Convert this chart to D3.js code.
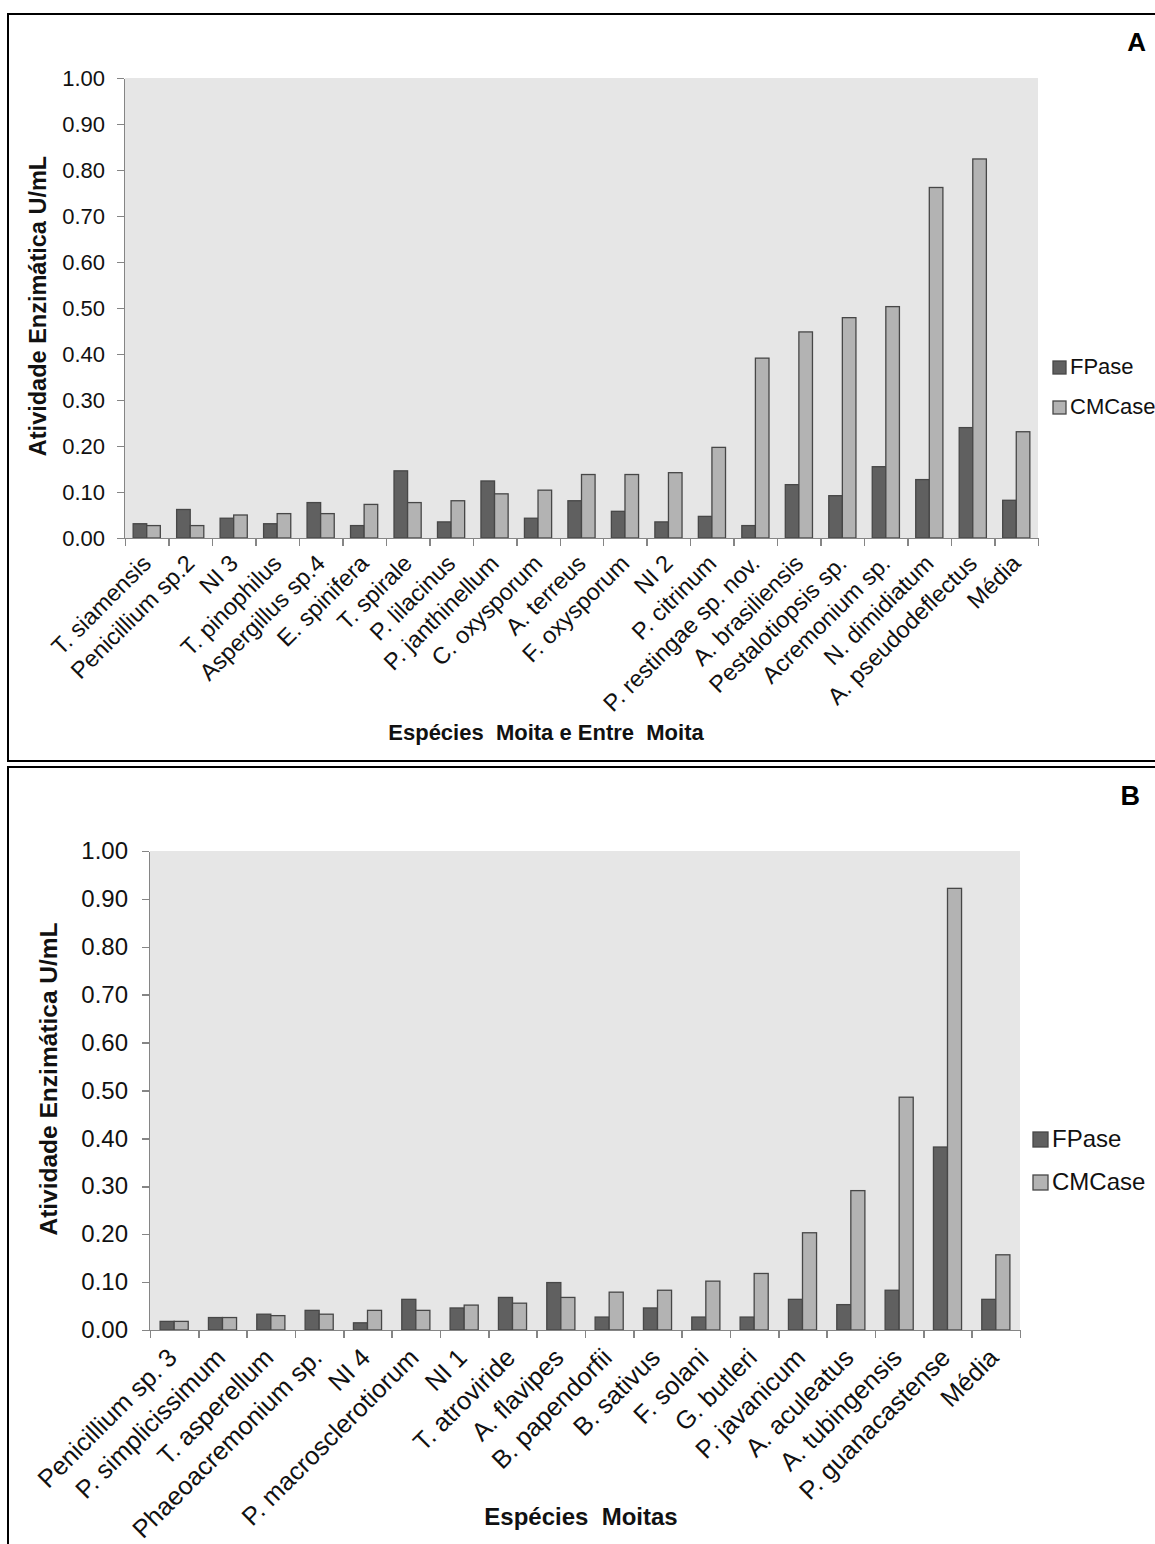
<!DOCTYPE html>
<html>
<head>
<script src="https://d3js.org/d3.v7.min.js"></script>
<style>
  body { margin: 0; background: #fff; }
  svg { display: block; font-family: "Liberation Sans", Arial, sans-serif; }
  .axis path, .axis line { stroke: #858585; stroke-width: 1.5; shape-rendering: crispEdges; }
  .axis text { fill: #111; }
</style>
</head>
<body>
<div id="chart"></div>
<script>
// panel A data
var catsA = ["T. siamensis", "Penicillium sp.2", "NI 3", "T. pinophilus", "Aspergillus sp.4",
  "E. spinifera", "T. spirale", "P. lilacinus", "P. janthinellum", "C. oxysporum", "A. terreus",
  "F. oxysporum", "NI 2", "P. citrinum", "P. restingae sp. nov.", "A. brasiliensis",
  "Pestalotiopsis sp.", "Acremonium sp.", "N. dimidiatum", "A. pseudodeflectus", "Média"];
var fpaseA = [0.031, 0.062, 0.043, 0.031, 0.077, 0.027, 0.146, 0.035, 0.124, 0.043, 0.081,
  0.058, 0.035, 0.047, 0.027, 0.116, 0.092, 0.155, 0.127, 0.240, 0.082];
var cmcaseA = [0.027, 0.027, 0.050, 0.053, 0.053, 0.073, 0.077, 0.081, 0.096, 0.104, 0.138,
  0.138, 0.142, 0.197, 0.391, 0.448, 0.479, 0.503, 0.762, 0.824, 0.231];

// panel B data
var catsB = ["Penicillium sp. 3", "P. simplicissimum", "T. asperellum", "Phaeoacremonium sp.",
  "NI 4", "P. macrosclerotiorum", "NI 1", "T. atroviride", "A. flavipes", "B. papendorfii",
  "B. sativus", "F. solani", "G. butleri", "P. javanicum", "A. aculeatus", "A. tubingensis",
  "P. guanacastense", "Média"];
var fpaseB = [0.018, 0.026, 0.033, 0.041, 0.015, 0.064, 0.046, 0.068, 0.099, 0.027,
  0.046, 0.027, 0.027, 0.064, 0.053, 0.083, 0.382, 0.064];
var cmcaseB = [0.018, 0.026, 0.030, 0.033, 0.041, 0.041, 0.052, 0.056, 0.068, 0.079,
  0.083, 0.102, 0.118, 0.203, 0.291, 0.486, 0.922, 0.157];

var seriesNames = ["FPase", "CMCase"];
var yTicks = [0, 0.1, 0.2, 0.3, 0.4, 0.5, 0.6, 0.7, 0.8, 0.9, 1.0];

var width = 1155, height = 1544;
var fill = { FPase: "#606060", CMCase: "#b3b3b3" };

var svg = d3.select("#chart").append("svg").attr("width", width).attr("height", height);

function drawPanel(p) {
  var g = svg.append("g");

  // frame
  g.append("rect").attr("x", p.box[0]).attr("y", p.box[1])
    .attr("width", p.box[2]).attr("height", p.box[3])
    .attr("fill", "none").attr("stroke", "#000").attr("stroke-width", 2);

  var y = d3.scaleLinear().domain([0, 1]).range([p.bottom, p.top]);
  var x = d3.scaleBand().domain(p.cats).range([p.left, p.right]).padding(0);
  var xs = d3.scaleBand().domain(seriesNames).range([0, x.bandwidth()])
    .paddingInner(0).paddingOuter(p.pad);
  var xi = d3.scaleLinear().domain([0, p.cats.length]).range([p.left, p.right]);

  g.append("rect").attr("x", p.left).attr("y", p.top)
    .attr("width", p.right - p.left).attr("height", p.bottom - p.top)
    .attr("fill", "#e6e6e6");

  var rows = p.cats.map(function (c, i) {
    return { cat: c, FPase: p.fp[i], CMCase: p.cm[i] };
  });

  var grp = g.selectAll(".grp").data(rows).enter().append("g")
    .attr("transform", function (d) { return "translate(" + x(d.cat) + ",0)"; });
  grp.selectAll("rect").data(function (d) {
    return seriesNames.map(function (s) { return { s: s, v: d[s] }; });
  }).enter().append("rect")
    .attr("x", function (d) { return xs(d.s); })
    .attr("y", function (d) { return y(d.v); })
    .attr("width", xs.bandwidth())
    .attr("height", function (d) { return p.bottom - y(d.v); })
    .attr("fill", function (d) { return fill[d.s]; })
    .attr("stroke", "#474747").attr("stroke-width", 1.3);

  // y axis
  var ya = g.append("g").attr("class", "axis").attr("transform", "translate(" + (p.left - 1) + ",0)")
    .call(d3.axisLeft(y).tickValues(yTicks).tickFormat(d3.format(".2f"))
      .tickSize(7).tickSizeOuter(0).tickPadding(p.tickPad));
  ya.selectAll("text").style("font-size", p.fs + "px");

  // x axis, ticks on category boundaries
  g.append("g").attr("class", "axis").attr("transform", "translate(0," + p.bottom + ")")
    .call(d3.axisBottom(xi).tickValues(d3.range(p.cats.length + 1)).tickFormat("")
      .tickSize(8).tickSizeOuter(0));

  g.selectAll(".xlab").data(p.cats).enter().append("text")
    .attr("transform", function (d) {
      return "translate(" + (x(d) + x.bandwidth() / 2 + p.labDx) + "," + (p.bottom + p.labDy) + ") rotate(-45)";
    })
    .attr("text-anchor", "end").attr("dy", "0.35em")
    .style("font-size", p.labFs + "px").attr("fill", "#111")
    .text(function (d) { return d; });

  // axis titles
  g.append("text")
    .attr("transform", "translate(" + p.yTitle[0] + "," + p.yTitle[1] + ") rotate(-90)")
    .attr("text-anchor", "middle").style("font-weight", "bold")
    .style("font-size", p.yTitleFs + "px").attr("fill", "#111")
    .text("Atividade Enzimática U/mL");

  g.append("text").attr("x", p.xTitle[0]).attr("y", p.xTitle[1])
    .attr("text-anchor", "middle").style("font-weight", "bold")
    .style("font-size", p.fs + "px").style("white-space", "pre").attr("fill", "#111")
    .text(p.xTitleText);

  // panel letter
  g.append("text").attr("x", p.letter[0]).attr("y", p.letter[1])
    .attr("text-anchor", "end").style("font-weight", "bold")
    .style("font-size", p.letterFs + "px").attr("fill", "#000")
    .text(p.letterText);

  // legend
  var lg = g.append("g").attr("transform", "translate(" + p.legend[0] + "," + p.legend[1] + ")");
  var li = lg.selectAll("g").data(seriesNames).enter().append("g")
    .attr("transform", function (d, i) { return "translate(0," + (i * p.legend[3]) + ")"; });
  li.append("rect").attr("width", p.legend[2]).attr("height", p.legend[2])
    .attr("fill", function (d) { return fill[d]; })
    .attr("stroke", "#474747").attr("stroke-width", 1.3);
  li.append("text").attr("x", p.legend[2] + 4).attr("y", p.legend[2])
    .style("font-size", p.fs + "px").attr("fill", "#111")
    .text(function (d) { return d; });
}

drawPanel({
  cats: catsA, fp: fpaseA, cm: cmcaseA,
  box: [8, 14, 1160, 747],
  left: 125, right: 1038, top: 78, bottom: 538, pad: 0.6,
  fs: 22, labFs: 23.5, tickPad: 12, labDx: 0, labDy: 21,
  yTitle: [46, 306], yTitleFs: 23.5,
  xTitle: [546, 740], xTitleText: "Espécies  Moita e Entre  Moita",
  letter: [1146, 51], letterFs: 26, letterText: "A",
  legend: [1053, 361, 13, 40]
});

drawPanel({
  cats: catsB, fp: fpaseB, cm: cmcaseB,
  box: [8, 767, 1160, 800],
  left: 150, right: 1020, top: 851, bottom: 1330, pad: 0.72,
  fs: 24, labFs: 25.5, tickPad: 14, labDx: -2, labDy: 23,
  yTitle: [57, 1079], yTitleFs: 24.5,
  xTitle: [581, 1525], xTitleText: "Espécies  Moitas",
  letter: [1140, 805], letterFs: 27, letterText: "B",
  legend: [1033, 1132, 15, 43]
});
</script>
</body>
</html>
